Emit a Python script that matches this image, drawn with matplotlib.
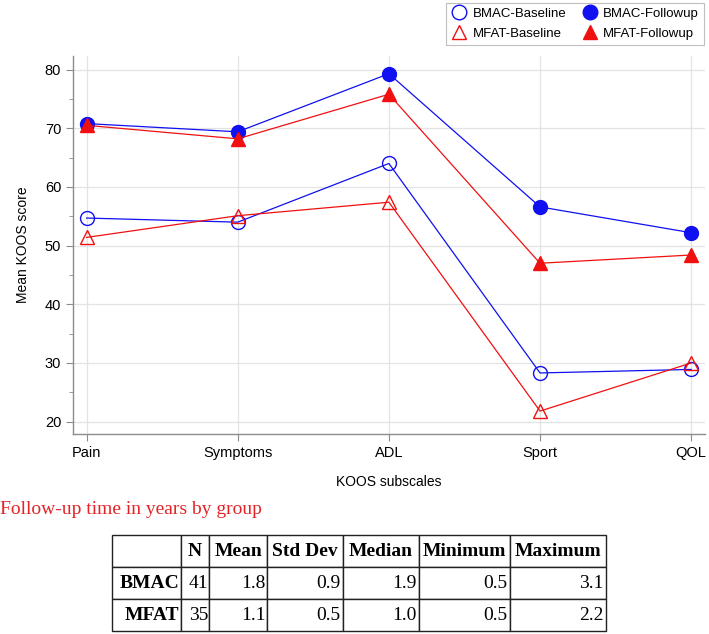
import matplotlib
matplotlib.use("Agg")
import matplotlib.pyplot as plt
import numpy as np

# KOOS 分项
SUBSCALES = ["Pain", "Symptoms", "ADL", "Sport", "QOL"]

# 各组平均 KOOS 分数
bmac_baseline = [54.7, 54.0, 64.0, 28.3, 28.9]
bmac_followup = [70.8, 69.4, 79.3, 56.6, 52.2]
mfat_baseline = [51.4, 55.1, 57.4, 21.8, 30.0]
mfat_followup = [70.5, 68.2, 75.8, 47.0, 48.4]

# 随访时间表
TABLE_COLS = ["", "N", "Mean", "Std Dev", "Median", "Minimum", "Maximum"]
TABLE_GROUPS = ["BMAC", "MFAT"]
table_n = ["41", "35"]
table_mean = ["1.8", "1.1"]
table_sd = ["0.9", "0.5"]
table_median = ["1.9", "1.0"]
table_min = ["0.5", "0.5"]
table_max = ["3.1", "2.2"]

BLUE = "#1010f0"
RED = "#f01010"
GRID = "#e3e3e3"
SPINE = "#8c8c8c"

plt.rcParams["font.family"] = ["Liberation Sans", "DejaVu Sans"]

fig = plt.figure(figsize=(7.09, 6.34), dpi=100)
ax = fig.add_axes([0.103, 0.3155, 0.891, 0.596])

x = np.arange(len(SUBSCALES))
series = [
    (bmac_baseline, "BMAC-Baseline", BLUE, "o", "none"),
    (mfat_baseline, "MFAT-Baseline", RED, "^", "none"),
    (bmac_followup, "BMAC-Followup", BLUE, "o", BLUE),
    (mfat_followup, "MFAT-Followup", RED, "^", RED),
]
handles = []
for vals, lab, col, mk, fc in series:
    h, = ax.plot(x, vals, color=col, lw=0.9, marker=mk, markersize=10,
                 markerfacecolor=fc, markeredgecolor=col, markeredgewidth=1.0,
                 label=lab, zorder=3)
    handles.append(h)

ax.set_xlim(-0.09, 4.09)
ax.set_ylim(17.9, 82.3)
ax.set_xticks(x)
ax.set_xticklabels(SUBSCALES, fontsize=10.5)
ax.set_yticks(np.arange(20, 81, 10))
ax.set_yticks(np.arange(25, 81, 10), minor=True)
ax.tick_params(axis="y", labelsize=10.5)
ax.tick_params(which="major", length=5, color=SPINE, direction="out")
ax.tick_params(which="minor", length=3, color=SPINE, direction="out")
ax.grid(True, which="major", color=GRID, lw=0.9, zorder=0)
ax.set_axisbelow(True)
for s in ["top", "right"]:
    ax.spines[s].set_visible(False)
for s in ["left", "bottom"]:
    ax.spines[s].set_color(SPINE)
    ax.spines[s].set_linewidth(1.0)

ax.set_xlabel("KOOS subscales", fontsize=10, labelpad=11)
ax.set_ylabel("Mean KOOS score", fontsize=10, labelpad=11)

leg = fig.legend(handles=handles, loc="upper right", bbox_to_anchor=(0.995, 0.998),
                 ncol=2, fontsize=9.5, frameon=True, fancybox=False,
                 edgecolor="#b0b0b0", borderpad=0.4, columnspacing=1.2,
                 handletextpad=0.4, labelspacing=0.55, handlelength=1.2,
                 borderaxespad=0.1, markerscale=1.05)
leg.get_frame().set_linewidth(0.8)
for ln in leg.get_lines():
    ln.set_linestyle("none")

fig.text(0.0, 0.1956, "Follow-up time in years by group", color="#e42327",
         fontsize=14, family=["Liberation Serif", "DejaVu Serif"], va="center", ha="left")

# 表格
cell_text = [TABLE_COLS]
for i, g in enumerate(TABLE_GROUPS):
    cell_text.append([g, table_n[i], table_mean[i], table_sd[i],
                      table_median[i], table_min[i], table_max[i]])

col_w = np.array([69, 28, 58, 75.5, 76, 91.5, 96], dtype=float)
col_w = col_w / col_w.sum()

tax = fig.add_axes([0.158, 0.0047, 0.697, 0.151])
tax.axis("off")
tbl = tax.table(cellText=cell_text, colWidths=list(col_w), bbox=[0, 0, 1, 1],
                cellLoc="right")
tbl.auto_set_font_size(False)
for (r, c), cell in tbl.get_celld().items():
    cell.set_edgecolor("#222222")
    cell.set_linewidth(1.0)
    txt = cell.get_text()
    txt.set_fontfamily(["Liberation Serif", "DejaVu Serif"])
    txt.set_fontsize(14)
    if r == 0 or c == 0:
        txt.set_fontweight("bold")
    if r == 0:
        cell.set_text_props(ha="center")
        cell._loc = "center"
    cell.PAD = 0.03

fig.savefig("out.png", dpi=100)
